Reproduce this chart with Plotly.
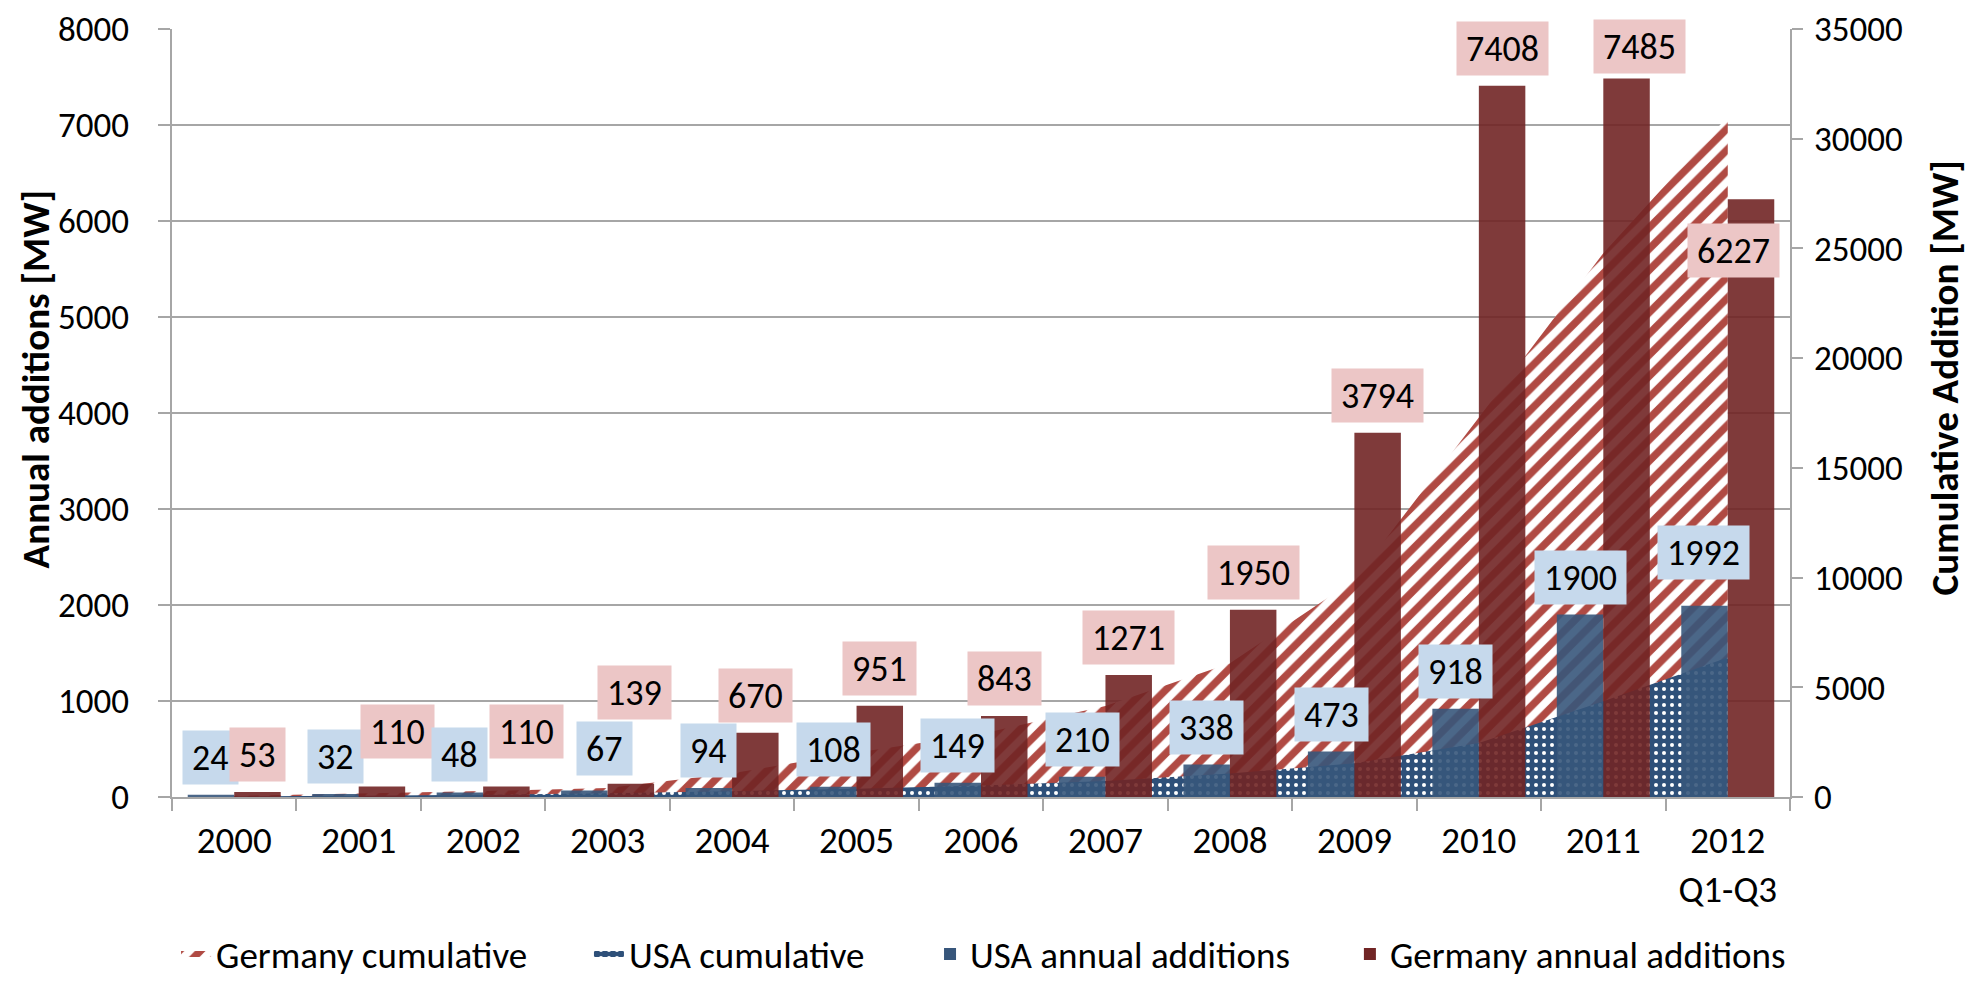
import plotly.graph_objects as go

# ---------------- data ----------------
years = ["2000", "2001", "2002", "2003", "2004", "2005", "2006",
         "2007", "2008", "2009", "2010", "2011", "2012"]
year_ticks = ["2000", "2001", "2002", "2003", "2004", "2005", "2006",
              "2007", "2008", "2009", "2010", "2011", "2012<br>Q1-Q3"]
usa_annual = [24, 32, 48, 67, 94, 108, 149, 210, 338, 473, 918, 1900, 1992]
germany_annual = [53, 110, 110, 139, 670, 951, 843, 1271, 1950, 3794, 7408, 7485, 6227]
germany_cumulative = [53, 163, 273, 412, 1082, 2033, 2876, 4147, 6097, 9891, 17299, 24784, 31011]
usa_cumulative = [24, 56, 104, 171, 265, 373, 522, 732, 1070, 1543, 2461, 4361, 6353]

# label nudges (px) where the original labels were moved to avoid overlaps
usa_label_dx = [0, 0, 0, 20, 0, 0, 0, 0, 0, 0, 0, 0, -1]
usa_label_dy = [0, 0, 0, 5, 0, 0, 0, 0, 0, 0, 0, 0, 16]
ger_label_dx = [0, 16, 20, 4, 0, 0, 0, 0, 0, 0, 0, 13, -18]
ger_label_dy = [0, 17, 17, 54, 0, 0, 0, 0, 0, 0, 0, -6, -89]

# ---------------- style ----------------
FONT = "Carlito, Calibri, 'Liberation Sans', Arial, sans-serif"
GRID = "#a6a6a6"
GER_BAR = "rgb(113,37,37)"
USA_BAR = "rgb(55,86,123)"
HATCH_RED = "#b04a43"
USA_AREA = "#2e5079"
PINK_BOX = "#ecc6c6"
BLUE_BOX = "#c6d9ec"

fig = go.Figure()

fig.add_trace(go.Scatter(
    x=years, y=germany_cumulative, name="Germany cumulative",
    mode="none", fill="tozeroy", yaxis="y", legend="legend",
    fillcolor="white",
    fillpattern=dict(shape="/", fgcolor=HATCH_RED, bgcolor="white",
                     size=15, solidity=0.5, fillmode="replace"),
))
fig.add_trace(go.Scatter(
    x=years, y=usa_cumulative, name="USA cumulative",
    mode="none", fill="tozeroy", yaxis="y", legend="legend2",
    fillcolor=USA_AREA,
    fillpattern=dict(shape=".", fgcolor="white", bgcolor=USA_AREA,
                     size=8, solidity=0.2, fillmode="replace"),
))
fig.add_trace(go.Bar(
    x=years, y=usa_annual, name="USA annual additions", yaxis="y2", legend="legend3",
    marker=dict(color=USA_BAR, opacity=0.9, line=dict(width=0)),
))
fig.add_trace(go.Bar(
    x=years, y=germany_annual, name="Germany annual additions", yaxis="y2", legend="legend4",
    marker=dict(color=GER_BAR, opacity=0.9, line=dict(width=0)),
))

LABEL_FONT = dict(family=FONT, size=36, color="black")
BAR_HALF = 23.25
annotations = []
for i in range(len(years)):
    t = str(usa_annual[i])
    annotations.append(dict(
        x=i, y=usa_annual[i], xref="x", yref="y2", text=t, showarrow=False,
        xanchor="center", yanchor="bottom",
        xshift=-BAR_HALF + usa_label_dx[i], yshift=10 + usa_label_dy[i],
        bgcolor=BLUE_BOX, borderpad=0, width=18.3 * len(t) + 18, height=53,
        align="center", valign="middle", font=LABEL_FONT,
    ))
    t = str(germany_annual[i])
    annotations.append(dict(
        x=i, y=germany_annual[i], xref="x", yref="y2", text=t, showarrow=False,
        xanchor="center", yanchor="bottom",
        xshift=BAR_HALF + ger_label_dx[i], yshift=10 + ger_label_dy[i],
        bgcolor=PINK_BOX, borderpad=0, width=18.3 * len(t) + 18, height=53,
        align="center", valign="middle", font=LABEL_FONT,
    ))

# axis titles
TITLE_FONT = dict(family=FONT, size=39, color="black")
annotations.append(dict(
    text="<b>Annual additions [MW]</b>", xref="paper", yref="paper",
    x=-0.0847, y=0.545, xanchor="center", yanchor="middle", textangle=-90,
    showarrow=False, font=TITLE_FONT,
))
annotations.append(dict(
    text="<b>Cumulative Addition [MW]</b>", xref="paper", yref="paper",
    x=1.0952, y=0.545, xanchor="center", yanchor="middle", textangle=-90,
    showarrow=False, font=TITLE_FONT,
))

LEG_FONT = dict(family=FONT, size=37, color="black")
def leg(xpos):
    return dict(orientation="h", x=xpos, xanchor="left", y=-0.205, yanchor="middle",
                font=LEG_FONT, itemwidth=30, bgcolor="rgba(0,0,0,0)")

fig.update_layout(
    width=1982, height=981,
    margin=dict(l=164, r=200, t=21, b=192, autoexpand=False),
    paper_bgcolor="white", plot_bgcolor="white",
    font=dict(family=FONT, size=37, color="black"),
    barmode="group", bargap=0.253, bargroupgap=0,
    showlegend=True,
    legend=leg(0.0025), legend2=leg(0.2577), legend3=leg(0.4685), legend4=leg(0.728),
    xaxis=dict(
        type="category", range=[-0.5, 12.5],
        tickvals=years, ticktext=year_ticks,
        ticks="outside", tickson="boundaries", ticklen=12, tickwidth=2, tickcolor=GRID,
        showline=True, linecolor=GRID, linewidth=2,
        showgrid=False, tickfont=dict(family=FONT, size=37),
        ticklabelstandoff=10, anchor="y", automargin=False,
    ),
    yaxis=dict(
        side="right", range=[0, 35000], dtick=5000, tick0=0, tickformat="d",
        showgrid=False, zeroline=False,
        ticks="outside", ticklen=11, tickwidth=2, tickcolor=GRID,
        showline=True, linecolor=GRID, linewidth=2,
        tickfont=dict(family=FONT, size=35), ticklabelstandoff=4,
        ticklabeloverflow="allow", automargin=False,
    ),
    yaxis2=dict(
        overlaying="y", side="left", range=[0, 8000], dtick=1000, tick0=0, tickformat="d",
        showgrid=True, gridcolor=GRID, gridwidth=2, zeroline=False,
        ticks="outside", ticklen=12, tickwidth=2, tickcolor=GRID,
        showline=True, linecolor=GRID, linewidth=2,
        tickfont=dict(family=FONT, size=35), ticklabelstandoff=22,
        ticklabeloverflow="allow", automargin=False,
    ),
    annotations=annotations,
)

fig.write_html("out.html")
